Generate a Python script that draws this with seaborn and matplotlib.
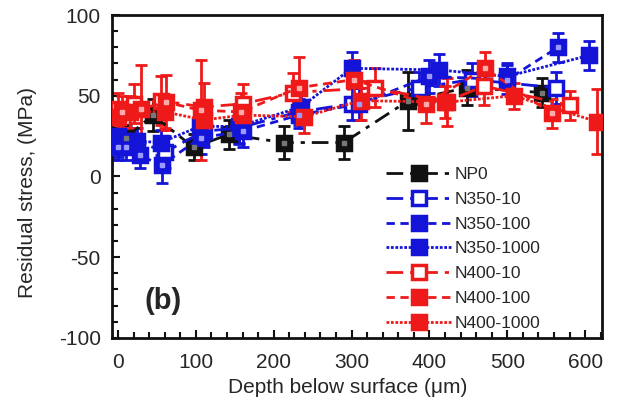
import numpy as np
import pandas as pd
import matplotlib
matplotlib.use("Agg")
import matplotlib.pyplot as plt
import seaborn as sns
from matplotlib.lines import Line2D

sns.set_style("ticks")
plt.rcParams['font.family'] = ['Liberation Sans', 'DejaVu Sans']
plt.rcParams['axes.unicode_minus'] = False

# ---- data ----
np0_x = [10, 45, 97, 142, 213, 290, 373, 448, 545]
np0_y = [24, 38, 18, 26, 21, 21, 47, 55, 52]
np0_e = [8, 10, 8, 9, 10, 10, 18, 11, 9]

n350_10_x = [0, 25, 60, 110, 155, 232, 300, 386, 455, 562]
n350_10_y = [20, 22, 15, 28, 30, 40, 45, 55, 60, 55]
n350_10_e = [8, 8, 10, 10, 10, 8, 10, 10, 10, 10]

n350_100_x = [0, 10, 28, 56, 106, 160, 232, 310, 400, 500, 565]
n350_100_y = [18, 18, 13, 7, 24, 28, 38, 45, 62, 60, 80]
n350_100_e = [8, 8, 8, 11, 10, 10, 8, 10, 10, 9, 9]

n350_1000_x = [0, 20, 55, 105, 155, 235, 300, 412, 500, 605]
n350_1000_y = [25, 22, 21, 31, 31, 43, 67, 66, 62, 75]
n350_1000_e = [8, 8, 8, 10, 10, 8, 10, 10, 8, 9]

n400_10_x = [0, 20, 55, 110, 160, 225, 330, 420, 470, 580]
n400_10_y = [42, 45, 47, 43, 45, 52, 55, 46, 56, 44]
n400_10_e = [10, 12, 15, 15, 12, 12, 12, 10, 12, 9]

n400_100_x = [5, 30, 62, 106, 158, 232, 303, 396, 471, 557]
n400_100_y = [40, 42, 46, 41, 40, 55, 60, 45, 67, 39]
n400_100_e = [10, 27, 17, 31, 12, 19, 12, 12, 10, 9]

n400_1000_x = [0, 15, 60, 110, 160, 239, 312, 422, 508, 615]
n400_1000_y = [37, 40, 40, 35, 38, 37, 47, 46, 50, 34]
n400_1000_e = [8, 10, 10, 12, 10, 10, 12, 15, 8, 20]

BLACK = '#111111'
BLUE = '#1414d8'
RED = '#ee1a1a'

series = [
    ("NP0", np0_x, np0_y, np0_e, BLACK, (0, (6, 2.5, 1.5, 2.5)), BLACK, '#777777'),
    ("N350-10", n350_10_x, n350_10_y, n350_10_e, BLUE, (0, (6, 2.5, 1.5, 2.5)), 'white', None),
    ("N350-100", n350_100_x, n350_100_y, n350_100_e, BLUE, (0, (3, 2)), BLUE, '#9a9aff'),
    ("N350-1000", n350_1000_x, n350_1000_y, n350_1000_e, BLUE, (0, (1, 0.6)), BLUE, None),
    ("N400-10", n400_10_x, n400_10_y, n400_10_e, RED, (0, (6, 2.5, 1.5, 2.5)), 'white', None),
    ("N400-100", n400_100_x, n400_100_y, n400_100_e, RED, (0, (3, 2)), RED, '#ffaaaa'),
    ("N400-1000", n400_1000_x, n400_1000_y, n400_1000_e, RED, (0, (1, 0.6)), RED, None),
]

fig = plt.figure(figsize=(6.28, 4.07), dpi=100)
ax = fig.add_axes([0.178, 0.17, 0.781, 0.793])

handles = []
for name, xs, ys, es, col, ls, mfc, inner in series:
    df = pd.DataFrame({"x": xs, "y": ys})
    ax.errorbar(xs, ys, yerr=es, fmt='none', ecolor=col, elinewidth=2,
                capsize=4.5, capthick=2, zorder=2)
    sns.lineplot(data=df, x="x", y="y", ax=ax, color=col, linestyle=ls,
                 linewidth=2, marker='s', markersize=9.5, markerfacecolor=mfc,
                 markeredgecolor=col, markeredgewidth=2.5, sort=False,
                 estimator=None, zorder=3)
    if inner is not None:
        ax.plot(xs, ys, linestyle='none', marker='s', markersize=3.5,
                markerfacecolor=inner, markeredgecolor=inner, zorder=4)
    handles.append(Line2D([0], [0], color=col, linestyle=ls, linewidth=2,
                          marker='s', markersize=9.5, markerfacecolor=mfc,
                          markeredgecolor=col, markeredgewidth=2.5))

ax.set_xlim(-8, 622)
ax.set_ylim(-100, 100)
ax.set_xticks([0, 100, 200, 300, 400, 500, 600])
ax.set_yticks([-100, -50, 0, 50, 100])
ax.set_xticks(np.arange(0, 621, 20), minor=True)
ax.set_yticks(np.arange(-100, 101, 10), minor=True)
ax.tick_params(axis='both', which='both', direction='in', width=1.5,
               labelsize=15, top=False, right=False, color='#111111')
ax.tick_params(axis='both', which='major', length=6)
ax.tick_params(axis='both', which='minor', length=4)
ax.tick_params(axis='x', which='major', pad=11)
ax.tick_params(axis='y', which='major', pad=8)
for sp in ax.spines.values():
    sp.set_visible(True)
    sp.set_linewidth(2)
    sp.set_color('#111111')

ax.set_xlabel("Depth below surface (μm)", fontsize=15)
ax.set_ylabel("Residual stress, (MPa)", fontsize=15)
ax.xaxis.set_label_coords(0.48, -0.125)
ax.yaxis.set_label_coords(-0.152, 0.45)

ax.text(0.105, 0.115, "(b)", transform=ax.transAxes, fontsize=21,
        fontweight='bold', ha='center', va='center')

leg = ax.legend(handles, [s[0] for s in series], loc='upper left',
                bbox_to_anchor=(0.545, 0.55), frameon=False, fontsize=12.5,
                handlelength=3.8, handletextpad=0.15, labelspacing=0.55,
                borderaxespad=0)

fig.savefig("out.png", dpi=100)
